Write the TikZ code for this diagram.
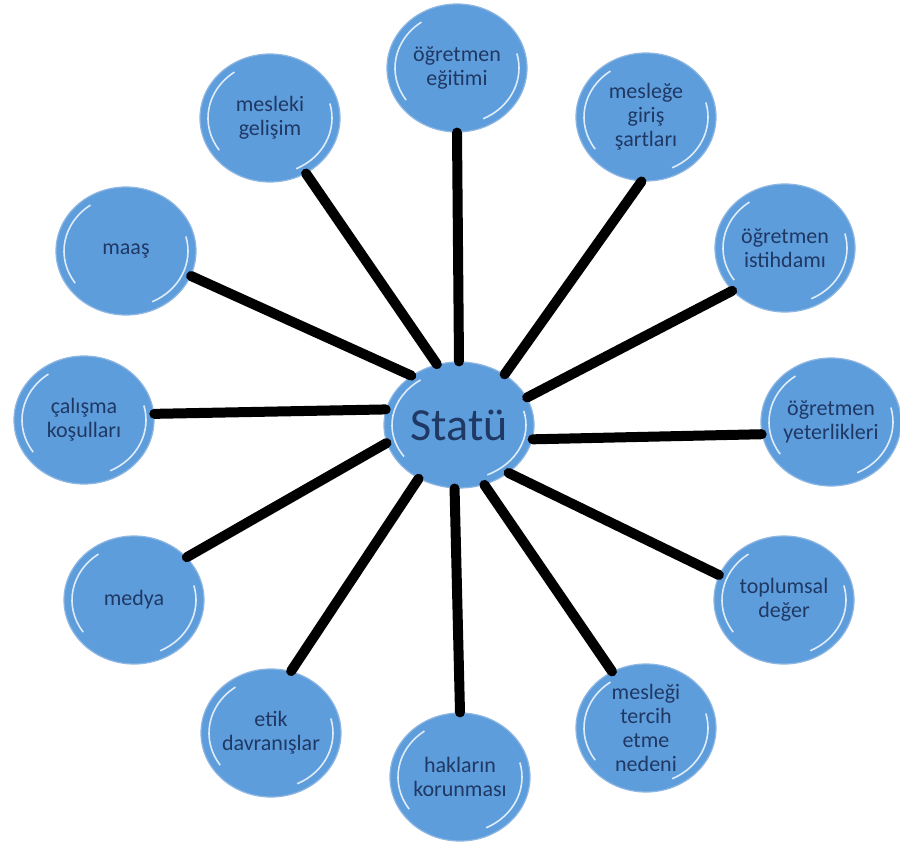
\documentclass[tikz,border=0pt]{standalone}
\usepackage{fontspec}
\setmainfont{Carlito}
\usetikzlibrary{shapes.geometric}
\definecolor{bub}{HTML}{5E9DDC}
\definecolor{rim}{HTML}{8DB6E2}
\definecolor{txt}{HTML}{1F3864}
\begin{document}
\begin{tikzpicture}[x=1pt,y=1pt,
  shinebase/.style={white,opacity=.8,line width=1.6pt},
  bubble/.style={ellipse, fill=bub, draw=rim, line width=1.2pt,
    minimum width=140pt, minimum height=128pt, inner sep=0pt,
    align=center, text=txt, font=\fontsize{22}{24}\selectfont,
    path picture={
      \draw[shinebase] ([shift={(125:62pt and 56pt)}]path picture bounding box.center)
        arc[start angle=125,end angle=215,x radius=62pt,y radius=56pt];
      \draw[shinebase] ([shift={(-65:62pt and 56pt)}]path picture bounding box.center)
        arc[start angle=-65,end angle=15,x radius=62pt,y radius=56pt];}},
  hub/.style={ellipse, fill=bub, draw=rim, line width=1.2pt,
    minimum width=150pt, minimum height=126pt, inner sep=0pt,
    text=txt, font=\fontsize{46}{50}\selectfont,
    path picture={
      \draw[shinebase] ([shift={(125:67pt and 55pt)}]path picture bounding box.center)
        arc[start angle=125,end angle=215,x radius=67pt,y radius=55pt];
      \draw[shinebase] ([shift={(-65:67pt and 55pt)}]path picture bounding box.center)
        arc[start angle=-65,end angle=15,x radius=67pt,y radius=55pt];}},
  link/.style={line width=10pt, line cap=round, black}
]
\fill[white] (0,0) rectangle (900,-847);
\useasboundingbox (0,0) rectangle (900,-847);

\node[hub] (stat) at (459,-425) {Statü};
\node[bubble] (egit) at (457,-68) {öğretmen\\eğitimi};
\node[bubble] (gir) at (646,-117) {mesleğe\\giriş\\şartları};
\node[bubble] (ist) at (785,-248) {öğretmen\\istihdamı};
\node[bubble] (yet) at (831,-422) {öğretmen\\yeterlikleri};
\node[bubble] (top) at (784,-600) {toplumsal\\değer};
\node[bubble] (ter) at (646,-728) {mesleği\\tercih\\etme\\nedeni};
\node[bubble] (hak) at (460,-777) {hakların\\korunması};
\node[bubble] (etik) at (271,-733) {etik\\davranışlar};
\node[bubble] (med) at (134,-600) {medya};
\node[bubble] (cal) at (84,-420) {çalışma\\koşulları};
\node[bubble] (maas) at (126,-251) {maaş};
\node[bubble] (gel) at (270,-118) {mesleki\\gelişim};

\draw[link] (stat.90) -- (egit.-90);
\draw[link] (stat.110) -- (gel.-57);
\draw[link] (stat.134) -- (maas.-21);
\draw[link] (stat.168) -- (cal.5);
\draw[link] (stat.194) -- (med.39);
\draw[link] (stat.233) -- (etik.72);
\draw[link] (stat.266) -- (hak.90);
\draw[link] (stat.293) -- (ter.121);
\draw[link] (stat.316) -- (top.159);
\draw[link] (stat.349) -- (yet.190);
\draw[link] (stat.22) -- (ist.219);
\draw[link] (stat.48) -- (gir.-94);
\end{tikzpicture}
\end{document}
